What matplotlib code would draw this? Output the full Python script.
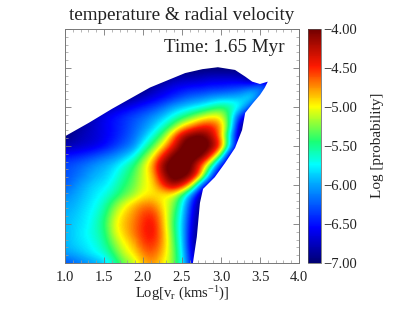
#!/usr/bin/env python
# coding: utf-8

import matplotlib
matplotlib.use('Agg')
import numpy as np
import matplotlib.pyplot as plt
from matplotlib.colors import LinearSegmentedColormap
from matplotlib.patches import Polygon
from matplotlib.ticker import MultipleLocator

plt.rcParams['font.family'] = ['Liberation Serif', 'DejaVu Serif']
plt.rcParams['mathtext.fontset'] = 'custom'
plt.rcParams['mathtext.rm'] = 'Liberation Serif'
plt.rcParams['mathtext.it'] = 'Liberation Serif:italic'

# Log probability, columns from vr = 1.0 in steps of 0.125
vr = np.arange(23) * 0.125 + 1.0
temp = np.arange(21) * 0.25
rows = [
    # y = 5.00 at the top, y = 0 at the bottom
    [],
    [-7, -7, -7, -7, -7, -7, -7, -7, -7, -7, -7, -6.85, -6.8, -6.8, -6.75, -6.7, -6.7, -6.7, -6.75, -7, -7, -7],
    [-7, -7, -7, -7, -7, -7, -7, -7, -7, -6.8, -6.7, -6.6, -6.55, -6.5, -6.5, -6.45, -6.45, -6.4, -6.35, -6.25, -6.0, -6.3],
    [-7, -7, -7, -7, -7, -7, -7, -6.85, -6.75, -6.65, -6.55, -6.45, -6.3, -6.2, -6.15, -6.05, -6.0, -5.95, -5.9, -5.65, -6.2],
    [-7, -7, -7, -7, -6.85, -6.75, -6.65, -6.55, -6.45, -6.35, -6.2, -6.0, -5.9, -5.8, -5.7, -5.55, -5.4, -5.5, -5.7, -6.3],
    [-7, -7, -6.9, -6.75, -6.6, -6.5, -6.4, -6.3, -6.2, -6.05, -5.9, -5.7, -5.5, -5.3, -5.1, -4.95, -5.0, -5.6, -6.5, -7],
    [-7, -6.9, -6.8, -6.7, -6.6, -6.5, -6.4, -6.25, -6.1, -5.9, -5.65, -5.35, -4.95, -4.7, -4.45, -4.45, -4.75, -5.6, -7],
    [-6.95, -6.85, -6.75, -6.7, -6.6, -6.5, -6.35, -6.2, -5.95, -5.65, -5.3, -4.75, -4.15, -3.9, -3.9, -4.2, -4.85, -6.0, -7],
    [-6.8, -6.75, -6.7, -6.65, -6.55, -6.4, -6.25, -6.1, -5.7, -5.35, -4.95, -4.45, -3.95, -3.85, -3.85, -3.95, -4.5, -5.9, -7],
    [-6.5, -6.45, -6.4, -6.3, -6.2, -6.1, -5.95, -5.75, -5.35, -5.0, -4.45, -3.95, -3.85, -3.85, -3.9, -4.5, -5.5, -7],
    [-6.3, -6.25, -6.15, -6.05, -5.95, -5.85, -5.65, -5.45, -5.1, -4.75, -4.0, -3.85, -3.85, -4.0, -4.7, -5.5, -6.6, -7],
    [-6.3, -6.2, -6.1, -5.95, -5.9, -5.75, -5.55, -5.35, -5.1, -4.85, -4.2, -3.85, -3.85, -4.05, -4.8, -6.2, -7],
    [-6.25, -6.1, -5.95, -5.85, -5.8, -5.65, -5.45, -5.3, -5.05, -4.95, -4.5, -4.1, -4.3, -5.0, -6.3, -7],
    [-6.1, -6.0, -5.9, -5.8, -5.7, -5.55, -5.35, -5.2, -5.0, -4.95, -5.0, -5.05, -5.5, -6.2, -7],
    [-6.0, -5.95, -5.85, -5.75, -5.6, -5.3, -5.05, -4.85, -4.7, -4.7, -4.95, -5.2, -5.7, -6.5, -7],
    [-5.95, -5.9, -5.8, -5.7, -5.5, -5.15, -4.9, -4.75, -4.55, -4.5, -4.85, -5.3, -5.8, -6.6, -7],
    [-5.95, -5.85, -5.8, -5.65, -5.45, -5.05, -4.85, -4.7, -4.5, -4.4, -4.8, -5.35, -5.85, -6.7, -7],
    [-5.95, -5.85, -5.75, -5.65, -5.5, -5.1, -4.9, -4.7, -4.5, -4.4, -4.75, -5.3, -5.85, -6.75, -7],
    [-5.95, -5.85, -5.8, -5.7, -5.55, -5.25, -5.0, -4.85, -4.55, -4.5, -4.75, -5.25, -5.8, -6.8, -7],
    [-6.0, -5.95, -5.85, -5.75, -5.65, -5.4, -5.1, -4.95, -4.7, -4.6, -4.85, -5.2, -5.75, -6.7, -7],
    [-6.3, -6.2, -6.1, -6.0, -5.9, -5.6, -5.3, -5.15, -4.85, -4.75, -4.95, -5.2, -5.7, -6.6, -7],
]

# Outline of the populated region
edge_x = [1.0, 1.0, 1.31, 1.6, 2.09, 2.54, 2.76, 2.96, 3.18, 3.31, 3.40, 3.5, 3.6, 3.56, 3.5, 3.41,
          3.31, 3.27, 3.18, 3.05, 2.92, 2.77, 2.73, 2.69, 2.64]
edge_y = [0.0, 3.25, 3.6, 3.95, 4.5, 4.87, 4.97, 5.02, 4.95, 4.78, 4.65, 4.59, 4.65, 4.49, 4.31, 4.1,
          3.85, 3.41, 2.95, 2.56, 2.2, 1.9, 1.54, 0.67, 0.0]

x_ticks = [1.0, 1.5, 2.0, 2.5, 3.0, 3.5, 4.0]
cbar_ticks = [-7.0, -6.5, -6.0, -5.5, -5.0, -4.5, -4.0]

grid = np.array([r + [-7.0] * (len(vr) - len(r)) for r in rows])[::-1]

cmap = LinearSegmentedColormap.from_list('idl', [
    (0.00, (0.00, 0.00, 0.45)),
    (0.15, (0.00, 0.00, 1.00)),
    (0.35, (0.00, 0.70, 1.00)),
    (0.42, (0.00, 1.00, 1.00)),
    (0.52, (0.10, 1.00, 0.45)),
    (0.67, (1.00, 1.00, 0.00)),
    (0.84, (1.00, 0.10, 0.00)),
    (1.00, (0.45, 0.00, 0.00)),
])

W, H = 409, 313
fig = plt.figure(figsize=(W / 100, H / 100), dpi=100)
ax = fig.add_axes([65 / W, 1 - 263 / H, 234 / W, 234 / H])

im = ax.imshow(grid, origin='lower', cmap=cmap, vmin=-7, vmax=-4, aspect='auto',
               interpolation='bicubic',
               extent=[vr[0] - 0.0625, vr[-1] + 0.0625, temp[0] - 0.125, temp[-1] + 0.125])
outline = Polygon(np.column_stack([edge_x, edge_y]), transform=ax.transData,
                  facecolor='none', edgecolor='none')
ax.add_patch(outline)
im.set_clip_path(outline)

ax.set_xlim(1, 4)
ax.set_ylim(0, 6)
ax.set_xticks(x_ticks)
ax.set_xticklabels(['%.1f' % t for t in x_ticks])
ax.xaxis.set_minor_locator(MultipleLocator(0.1))
ax.yaxis.set_major_locator(MultipleLocator(1))
ax.yaxis.set_minor_locator(MultipleLocator(0.2))
ax.set_yticklabels([])
ax.tick_params(which='major', direction='in', top=True, right=True, length=4,
               width=0.6, color='#777777', labelsize=10.5, labelcolor='#222222', pad=6)
ax.tick_params(which='minor', direction='in', top=True, right=True, length=2,
               width=0.5, color='#999999')
for s in ax.spines.values():
    s.set_linewidth(0.7)
    s.set_color('#777777')

fig.text(182 / W, 1 - 16 / H, 'temperature & radial velocity', ha='center', va='center',
         fontsize=13.8, color='#222222')
fig.text(285 / W, 1 - 47 / H, 'Time: 1.65 Myr', ha='right', va='center',
         fontsize=13.8, color='#222222')
fig.text(182 / W, 1 - 294 / H, 'Log[v$_{\\mathrm{r}}$ (kms$^{-1}$)]', ha='center', va='center',
         fontsize=10.5, color='#222222')

cax = fig.add_axes([308 / W, 1 - 263 / H, 12.5 / W, 234 / H])
cb = fig.colorbar(im, cax=cax)
cb.set_ticks(cbar_ticks)
cb.set_ticklabels(['\u2212%.2f' % abs(t) for t in cbar_ticks])
cb.ax.tick_params(length=0, labelsize=10.5, labelcolor='#222222', pad=2)
cb.outline.set_linewidth(0.5)
cb.outline.set_edgecolor('#555555')
fig.text(377 / W, 1 - 145 / H, 'Log [probability]', rotation=90, ha='center', va='center',
         fontsize=11, color='#222222')

plt.savefig('out.png', dpi=100)
